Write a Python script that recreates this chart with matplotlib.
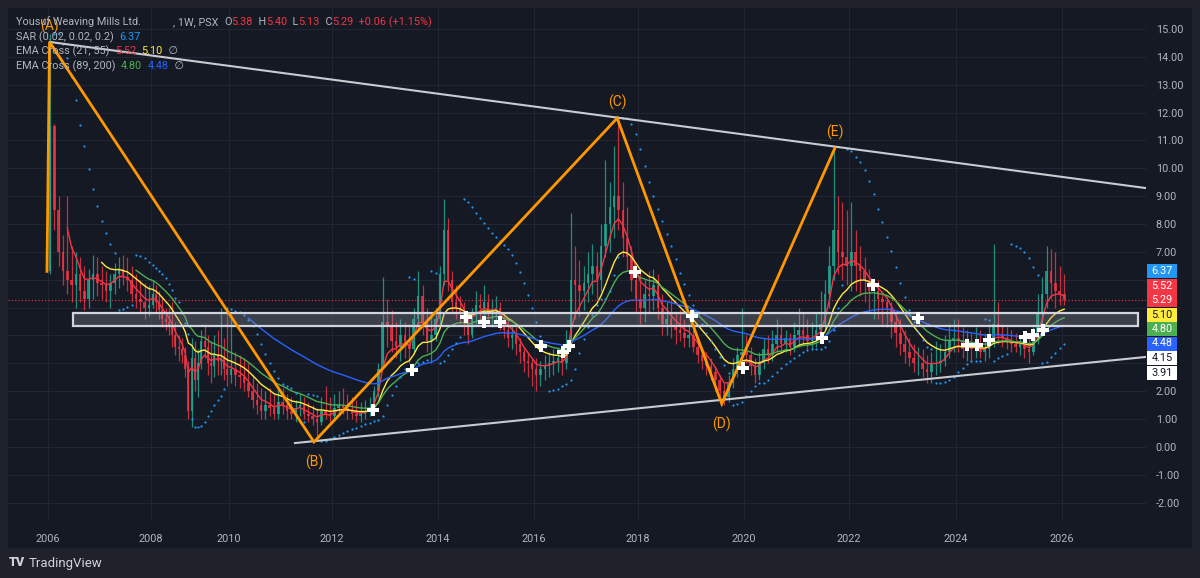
import numpy as np
import matplotlib
matplotlib.use("Agg")
import matplotlib.pyplot as plt
from matplotlib.patches import Rectangle

# ---- monthly candles, Jan 2006 .. Jan 2026 ----
FIRST_OPEN = 6.3
CLOSE = [
    11.5, 8.5, 7.0, 6.3, 6.0, 5.8, 6.2, 5.6, 5.3, 6.0, 6.2, 5.9,   # 2006
    5.8, 5.6, 5.9, 6.2, 6.4, 6.1, 6.0, 5.5, 5.3, 5.2, 5.0, 5.1,    # 2007
    5.5, 5.2, 4.9, 4.6, 4.5, 4.3, 4.0, 3.6, 3.5, 3.3, 2.8, 1.3,    # 2008
    3.2, 2.4, 3.0, 3.8, 3.6, 3.0, 2.9, 3.3, 3.1, 3.2, 2.8, 2.6,    # 2009
    2.8, 2.6, 2.5, 2.3, 2.0, 1.7, 1.5, 1.3, 1.5, 1.4, 1.2, 1.6,    # 2010
    1.5, 1.3, 1.2, 1.4, 1.5, 1.2, 1.1, 1.0, 0.9, 1.3, 1.2, 1.1,    # 2011
    1.4, 1.5, 1.4, 1.3, 1.2, 1.1, 1.2, 1.3, 1.4, 2.0, 2.8, 4.5,    # 2012
    4.3, 3.8, 3.6, 4.0, 3.7, 3.5, 4.6, 5.4, 4.5, 3.8, 4.0, 4.6,    # 2013
    6.2, 7.8, 6.0, 5.2, 5.0, 4.8, 4.4, 4.0, 4.7, 5.1, 5.0, 5.2,    # 2014
    4.8, 4.9, 5.0, 4.5, 4.2, 3.9, 4.0, 3.7, 3.4, 3.1, 3.0, 2.8,    # 2015
    2.6, 2.8, 2.9, 3.0, 3.1, 3.2, 3.0, 3.6, 6.0, 5.8, 5.6, 5.9,    # 2016
    6.2, 6.5, 6.0, 7.2, 8.0, 8.6, 9.0, 8.5, 7.5, 6.8, 6.0, 5.3,    # 2017
    5.0, 5.5, 5.4, 5.8, 5.0, 4.4, 4.6, 4.3, 4.2, 4.1, 3.9, 4.0,    # 2018
    3.6, 3.3, 3.1, 2.9, 2.7, 2.4, 2.0, 1.8, 2.3, 2.8, 3.3, 3.4,    # 2019
    3.3, 2.9, 2.6, 3.0, 3.5, 3.3, 3.7, 4.0, 3.7, 3.9, 3.6, 4.0,    # 2020
    4.2, 4.0, 3.8, 3.9, 4.2, 4.4, 5.5, 6.5, 7.8, 7.0, 6.8, 6.5,    # 2021
    7.0, 6.5, 6.3, 6.0, 5.6, 5.6, 5.3, 5.2, 5.0, 4.5, 4.1, 3.7,    # 2022
    3.4, 3.2, 3.0, 3.0, 2.8, 2.7, 3.0, 3.0, 3.1, 3.4, 3.8, 3.9,    # 2023
    3.8, 3.5, 3.6, 3.5, 3.6, 3.4, 3.5, 3.9, 4.4, 4.0, 3.9, 3.8,    # 2024
    3.7, 3.6, 3.7, 3.5, 3.4, 3.9, 4.8, 5.5, 6.3, 5.9, 5.6, 5.5,    # 2025
    5.29,                                                           # 2026
]
HIGH = [
    14.8, 11.6, 9.0, 7.6, 9.0, 7.2, 7.0, 6.8, 6.5, 6.4, 6.9, 6.8,
    6.5, 6.3, 6.2, 6.6, 6.8, 6.9, 6.8, 6.5, 6.2, 6.0, 5.9, 5.8,
    6.0, 5.8, 5.6, 5.4, 5.0, 5.0, 5.2, 4.5, 4.0, 3.9, 3.6, 3.1,
    3.9, 3.8, 3.5, 4.2, 4.4, 4.0, 3.8, 4.0, 4.2, 5.0, 3.9, 4.8,
    4.6, 3.4, 3.3, 3.2, 3.0, 2.6, 2.3, 2.1, 2.0, 2.1, 1.9, 2.2,
    2.1, 1.9, 1.8, 1.7, 1.9, 1.8, 1.6, 1.5, 1.4, 1.8, 2.2, 1.8,
    1.9, 2.0, 2.1, 1.9, 1.8, 1.7, 1.6, 1.7, 1.8, 2.2, 3.0, 6.1,
    5.3, 4.9, 4.5, 4.6, 4.5, 4.4, 5.0, 6.3, 5.8, 5.0, 4.8, 5.0,
    6.5, 8.9, 8.2, 6.3, 5.8, 5.4, 5.2, 4.8, 5.0, 5.6, 5.5, 5.8,
    5.5, 5.3, 5.4, 5.2, 4.8, 4.6, 4.4, 4.3, 3.9, 3.6, 3.4, 3.2,
    3.2, 3.1, 3.3, 3.4, 3.5, 3.6, 3.5, 4.2, 8.4, 7.2, 6.7, 6.5,
    7.0, 7.3, 7.0, 8.0, 10.3, 9.5, 10.8, 11.8, 9.5, 8.6, 7.2, 6.5,
    6.3, 6.0, 6.3, 6.4, 6.2, 5.5, 5.2, 5.3, 4.8, 4.9, 4.6, 4.4,
    4.2, 3.8, 3.6, 3.4, 3.2, 2.9, 2.6, 2.3, 2.6, 3.2, 3.6, 5.0,
    4.0, 3.6, 3.2, 3.4, 3.9, 4.0, 4.2, 4.6, 4.4, 4.2, 4.1, 4.5,
    5.0, 4.8, 4.6, 4.5, 4.8, 5.6, 6.0, 7.2, 10.7, 9.0, 8.8, 8.5,
    8.8, 7.8, 7.2, 6.8, 6.4, 6.0, 6.0, 5.6, 5.4, 5.2, 4.8, 4.6,
    4.2, 3.9, 3.7, 3.6, 3.5, 3.3, 3.4, 3.8, 3.7, 4.0, 4.4, 4.6,
    4.6, 4.3, 4.2, 4.1, 4.3, 4.2, 4.1, 4.4, 7.3, 5.2, 4.4, 4.3,
    4.2, 4.1, 4.0, 4.1, 4.0, 4.3, 5.5, 6.1, 7.2, 7.1, 7.0, 6.5,
    6.2,
]
LOW = [
    6.2, 7.8, 6.5, 5.8, 5.5, 5.2, 5.0, 5.2, 4.9, 5.0, 5.3, 5.4,
    5.3, 5.2, 5.0, 5.5, 5.7, 5.8, 5.6, 5.2, 5.0, 4.8, 4.6, 4.7,
    5.0, 4.8, 4.6, 4.3, 4.2, 4.0, 3.6, 3.3, 3.1, 3.0, 2.5, 1.0,
    0.7, 2.0, 1.8, 2.8, 3.2, 2.6, 2.3, 2.5, 2.6, 2.6, 2.4, 2.2,
    2.3, 2.2, 2.1, 2.0, 1.8, 1.4, 1.2, 1.0, 1.0, 1.1, 1.0, 1.0,
    1.2, 1.0, 1.0, 0.9, 1.1, 1.0, 0.9, 0.8, 0.2, 0.8, 1.0, 0.9,
    1.0, 1.1, 1.2, 1.0, 1.0, 0.9, 0.9, 1.0, 1.1, 1.2, 1.8, 2.8,
    3.6, 3.4, 3.2, 3.1, 3.2, 3.0, 3.4, 4.2, 4.0, 3.4, 3.0, 3.8,
    4.4, 5.8, 5.6, 4.8, 4.6, 4.4, 4.0, 3.7, 3.9, 4.4, 4.5, 4.6,
    4.4, 4.3, 4.5, 4.2, 3.9, 3.6, 3.5, 3.3, 3.0, 2.7, 2.5, 2.2,
    2.0, 2.2, 2.4, 2.5, 2.6, 2.7, 2.6, 2.8, 3.5, 4.6, 4.7, 4.9,
    5.2, 5.5, 5.3, 5.6, 6.8, 7.0, 7.5, 7.8, 6.8, 6.3, 5.6, 4.8,
    4.4, 4.5, 4.8, 4.9, 4.6, 4.0, 4.0, 3.9, 3.7, 3.8, 3.6, 3.6,
    3.4, 3.0, 2.8, 2.6, 2.4, 2.0, 1.8, 1.5, 1.6, 2.1, 2.5, 2.9,
    3.0, 2.6, 2.3, 2.4, 2.8, 3.0, 3.1, 3.4, 3.4, 3.4, 3.3, 3.4,
    3.6, 3.7, 3.5, 3.5, 3.6, 3.8, 4.2, 5.0, 6.0, 6.2, 6.0, 5.8,
    5.6, 5.6, 5.4, 5.2, 4.8, 4.6, 4.6, 4.4, 4.3, 3.9, 3.6, 3.3,
    3.0, 2.9, 2.7, 2.6, 2.5, 2.3, 2.3, 2.6, 2.7, 2.9, 3.2, 3.4,
    3.4, 3.2, 3.1, 3.1, 3.2, 3.2, 3.1, 3.2, 3.6, 3.7, 3.6, 3.5,
    3.4, 3.4, 3.3, 3.2, 3.0, 3.3, 3.7, 4.2, 5.0, 5.3, 5.0, 5.1,
    5.1,
]

# EMA lengths (weeks) and the month each line starts plotting
EMA_LENGTHS = [21, 55, 89, 200]
EMA_START = [4, 12, 20, 52]
EMA_COLORS = ["#f23645", "#ffeb3b", "#4caf50", "#2962ff"]

# zigzag wave points (decimal year, price)
WAVE_X = [2005.98, 2006.03, 2011.65, 2017.60, 2019.58, 2021.73]
WAVE_Y = [6.3, 14.53, 0.18, 11.80, 1.55, 10.72]
WAVE_LABELS = ["(A)", "(B)", "(C)", "(D)", "(E)"]

# trendlines and zone
UPPER_X, UPPER_Y = [2006.04, 2027.58], [14.53, 9.29]
LOWER_X, LOWER_Y = [2011.28, 2027.58], [0.14, 3.23]
ZONE_X, ZONE_Y = [2006.49, 2027.43], [4.34, 4.81]

# EMA cross markers (decimal year, price)
CROSS_X = [2012.77, 2013.51, 2014.58, 2014.96, 2015.29, 2016.13, 2016.56, 2016.67,
           2017.94, 2019.02, 2019.98, 2021.49, 2022.45, 2023.29, 2024.21, 2024.40,
           2024.62, 2025.30, 2025.45, 2025.64]
CROSS_Y = [1.33, 2.76, 4.66, 4.49, 4.49, 3.62, 3.41, 3.62,
           6.28, 4.70, 2.83, 3.91, 5.81, 4.63, 3.66, 3.66,
           3.84, 3.95, 4.02, 4.20]

LAST_OHLC = [5.38, 5.40, 5.13, 5.29]
LAST_CHANGE = [0.06, 1.15]
SAR_LAST = 6.37
EMA_LAST = [5.52, 5.10, 4.80, 4.48]
SCALE_LABELS = [6.37, 5.52, 5.29, 5.10, 4.80, 4.48, 4.15, 3.91]
SCALE_COLORS = ["#2196f3", "#f23645", "#f23645", "#ffeb3b", "#4caf50", "#2962ff", "#ffffff", "#ffffff"]
SCALE_TEXT = ["white", "white", "white", "#131722", "white", "white", "#131722", "#131722"]

YEAR_TICKS = [2006, 2008, 2010, 2012, 2014, 2016, 2018, 2020, 2022, 2024, 2026]

# bar-index style time axis: TradingView squeezes years with missing weeks
AX_YEARS = [2005, 2006, 2008, 2010, 2012, 2014, 2016, 2018, 2020, 2022, 2024, 2026, 2028]
AX_PIX = [-3.5, 48, 151, 229, 332, 438, 534, 638, 744, 849, 956, 1062, 1168]

W, H = 1200, 578
BG = "#151924"
OUTER = "#1f222b"
GRID = "#222633"
TEXT = "#b2b5be"
RED = "#f23645"
GREEN = "#22ab94"
SAR_COLOR = "#2196f3"
ORANGE = "#ff9800"
FONT = "Roboto"


def fwd(x):
    return np.interp(x, AX_YEARS, AX_PIX)


def inv(p):
    return np.interp(p, AX_PIX, AX_YEARS)


def ema(values, weeks, start):
    span = weeks / 4.345
    alpha = 2 / (span + 1)
    out = np.full(len(values), np.nan)
    out[start] = values[:start + 1].mean()
    for i in range(start + 1, len(values)):
        out[i] = alpha * values[i] + (1 - alpha) * out[i - 1]
    return out


def parabolic_sar(high, low, step=0.02, max_step=0.2):
    n = len(high)
    sar = np.full(n, np.nan)
    bull = False
    af = step
    ep = low[1]
    sar[1] = high[0]
    for i in range(2, n):
        s = sar[i - 1] + af * (ep - sar[i - 1])
        if bull:
            s = min(s, low[i - 1], low[i - 2])
            if low[i] < s:
                bull, s, ep, af = False, ep, low[i], step
            elif high[i] > ep:
                ep, af = high[i], min(af + step, max_step)
        else:
            s = max(s, high[i - 1], high[i - 2])
            if high[i] > s:
                bull, s, ep, af = True, ep, high[i], step
            elif low[i] < ep:
                ep, af = low[i], min(af + step, max_step)
        sar[i] = s
    return sar


def fpos(x, y):
    return x / W, 1 - y / H


def write_line(fig, x, y, pieces, size=7.8):
    r = fig.canvas.get_renderer()
    for s, c in pieces:
        t = fig.text(*fpos(x, y), s, color=c, fontsize=size, va="center",
                     ha="left", family=[FONT, "DejaVu Sans"])
        x += t.get_window_extent(renderer=r).width


close = np.array(CLOSE)
high = np.array(HIGH)
low = np.array(LOW)
opens = np.concatenate([[FIRST_OPEN], close[:-1]])
dates = 2006 + (np.arange(len(close)) + 0.5) / 12

fig = plt.figure(figsize=(W / 100, H / 100), dpi=100, facecolor=OUTER)
fig.patches.append(Rectangle(fpos(8, 548), 1184 / W, 540 / H, transform=fig.transFigure,
                             facecolor=BG, edgecolor="none", zorder=-1))
ax = fig.add_axes([8 / W, (H - 520) / H, 1138 / W, 512 / H])
ax.set_facecolor(BG)
ax.set_xscale("function", functions=(fwd, inv))
ax.set_xlim(inv(8), inv(1146))
ax.set_ylim(-2.62, 15.75)

# grid
for p in range(-2, 16):
    ax.axhline(p, color=GRID, lw=0.8, zorder=0)
for yr in YEAR_TICKS:
    ax.axvline(yr, color=GRID, lw=0.8, zorder=0)

# candles
up = close >= opens
cols = np.where(up, GREEN, RED)
ax.vlines(dates, low, high, colors=cols, lw=0.9, alpha=0.8, zorder=2)
ax.bar(dates, np.maximum(np.abs(close - opens), 0.03), bottom=np.minimum(close, opens),
       width=0.05, color=cols, alpha=0.8, linewidth=0, zorder=2)

# EMAs
for n, st, c in zip(EMA_LENGTHS, EMA_START, EMA_COLORS):
    ax.plot(dates, ema(close, n, st), color=c, lw=1.0, zorder=3)

# parabolic SAR
sar = parabolic_sar(high, low)
ax.plot(dates, sar, ls="none", marker="o", ms=1.6, color=SAR_COLOR, mew=0, zorder=3)

# current price line
ax.axhline(LAST_OHLC[3], color=RED, lw=0.8, ls=(0, (1, 2)), zorder=3)

# zone
ax.add_patch(Rectangle((ZONE_X[0], ZONE_Y[0]), ZONE_X[1] - ZONE_X[0], ZONE_Y[1] - ZONE_Y[0],
                       facecolor="#9598a1", alpha=0.3, edgecolor="none", zorder=4))
ax.add_patch(Rectangle((ZONE_X[0], ZONE_Y[0]), ZONE_X[1] - ZONE_X[0], ZONE_Y[1] - ZONE_Y[0],
                       facecolor="none", edgecolor="#d1d4dc", lw=1.6, zorder=4))

# trendlines
ax.plot(UPPER_X, UPPER_Y, color="#c9cbd1", lw=1.5, zorder=5)
ax.plot(LOWER_X, LOWER_Y, color="#c9cbd1", lw=1.5, zorder=5)

# wave
ax.plot(WAVE_X, WAVE_Y, color=ORANGE, lw=2.0, zorder=6, solid_joinstyle="miter")
for i, lab in enumerate(WAVE_LABELS):
    peak = i % 2 == 0
    ax.annotate(lab, (WAVE_X[i + 1], WAVE_Y[i + 1]), xytext=(0, 6 if peak else -9),
                textcoords="offset points", ha="center", va="bottom" if peak else "top",
                color=ORANGE, fontsize=10, family=FONT, zorder=7)

# crosses
ax.plot(CROSS_X, CROSS_Y, ls="none", marker="P", ms=8, color="white", mew=0, zorder=8)

# axes styling
for s in ax.spines.values():
    s.set_visible(False)
ax.set_xticks(YEAR_TICKS)
ax.set_xticklabels([str(y) for y in YEAR_TICKS])
ytk = list(range(-2, 16))
ax.set_yticks(ytk)
ax.set_yticklabels(["" if 3 <= v <= 6 else f"{v:.2f}" for v in ytk])
ax.yaxis.tick_right()
ax.tick_params(axis="both", length=0, colors=TEXT, labelsize=7.8)
ax.tick_params(axis="x", pad=10)
ax.tick_params(axis="y", pad=7)
for t in ax.get_xticklabels() + ax.get_yticklabels():
    t.set_family(FONT)

# price scale labels
for i, (v, bc, tc) in enumerate(zip(SCALE_LABELS, SCALE_COLORS, SCALE_TEXT)):
    yc = 271 + i * 14.5
    fig.patches.append(Rectangle(fpos(1147, yc + 7), 30 / W, 14 / H, transform=fig.transFigure,
                                 facecolor=bc, edgecolor="none", zorder=5))
    fig.text(*fpos(1162, yc), f"{v:.2f}", color=tc, fontsize=7.8, ha="center",
             va="center", family=FONT, zorder=6)

# legend
write_line(fig, 16, 22, [("Yousuf Weaving Mills Ltd.", TEXT)])
o, h, l, c = LAST_OHLC
write_line(fig, 173, 22, [
    (", 1W, PSX  ", TEXT), ("O", TEXT), (f"{o:.2f}", RED), ("  H", TEXT), (f"{h:.2f}", RED),
    ("  L", TEXT), (f"{l:.2f}", RED), ("  C", TEXT), (f"{c:.2f}", RED),
    (f"  +{LAST_CHANGE[0]:.2f} (+{LAST_CHANGE[1]:.2f}%)", RED)])
write_line(fig, 16, 37, [("SAR (0.02, 0.02, 0.2)  ", TEXT), (f"{SAR_LAST:.2f}", SAR_COLOR)])
write_line(fig, 16, 51, [("EMA Cross (21, 55)  ", TEXT), (f"{EMA_LAST[0]:.2f}", EMA_COLORS[0]),
                         ("  ", TEXT), (f"{EMA_LAST[1]:.2f}", EMA_COLORS[1]), ("  ∅", TEXT)])
write_line(fig, 16, 66, [("EMA Cross (89, 200)  ", TEXT), (f"{EMA_LAST[2]:.2f}", EMA_COLORS[2]),
                         ("  ", TEXT), (f"{EMA_LAST[3]:.2f}", EMA_COLORS[3]), ("  ∅", TEXT)])

# footer logo
fig.text(*fpos(9, 563), "TV", color="#d1d4dc", fontsize=9, fontweight="black",
         va="center", ha="left", family=FONT)
fig.text(*fpos(29, 563), "TradingView", color="#d1d4dc", fontsize=9.5,
         va="center", ha="left", family=FONT)

fig.savefig("out.png", dpi=100, facecolor=OUTER)
